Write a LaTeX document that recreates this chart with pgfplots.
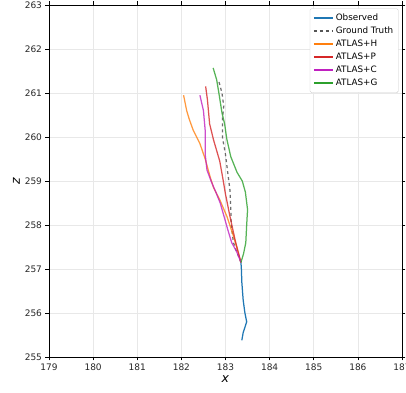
\documentclass[border=0pt]{standalone}
\usepackage{fontspec}
\setmainfont{DejaVu Sans}
\usepackage{pgfplots}
\pgfplotsset{compat=1.18}
\definecolor{cobs}{HTML}{1F77B4}
\definecolor{cgt}{HTML}{555555}
\definecolor{ch}{HTML}{FF7F0E}
\definecolor{cp}{HTML}{D62728}
\definecolor{cc}{HTML}{C020C0}
\definecolor{cg}{HTML}{2CA02C}
\begin{document}
\begin{tikzpicture}[x=1pt,y=1pt]
\begin{axis}[
  scale only axis, width=353pt, height=352pt,
  xmin=179, xmax=187, ymin=255, ymax=263,
  xtick={179,...,187}, ytick={255,...,263},
  xlabel={\textit{x}}, ylabel={\textit{z}},
  grid=major, grid style={gray!18, line width=0.6pt},
  tick style={black, line width=0.7pt}, tick align=outside,
  major tick length=3.5pt,
  axis line style={line width=0.7pt},
  ticklabel style={font=\fontsize{9}{10}\selectfont, text=black!85},
  /pgf/number format/assume math mode=true,
  /pgf/number format/.cd, 1000 sep={},
  /pgfplots/.cd,
  label style={font=\fontsize{12.5}{14}\selectfont},
  xlabel style={yshift=2pt},
  ylabel style={yshift=-2pt},
  legend pos=north east,
  legend cell align=left,
  legend style={font=\fontsize{8.8}{10.5}\selectfont, draw=gray!40, rounded corners=1.5pt, inner sep=3pt, row sep=0pt, at={(0.99,0.99)},
    nodes={text height=7pt, text depth=2pt, inner ysep=2pt}},
  legend image code/.code={\draw[#1, line width=1.8pt, opacity=1] (0pt,0pt) -- (19pt,0pt);},
  every axis plot/.append style={line width=1.25pt},
]
\addplot[cobs] coordinates {(183.37,255.38) (183.40,255.55) (183.48,255.80) (183.44,256.0) (183.40,256.3) (183.37,256.7) (183.36,257.0) (183.35,257.15)};
\addlegendentry{Observed}
\addplot[cgt, dashed, opacity=0.85] coordinates {(183.35,257.15) (183.25,257.4) (183.18,257.6) (183.13,258.0) (183.12,258.4) (183.10,258.8) (183.05,259.2) (183.0,259.6) (182.93,260.0) (182.93,260.4) (182.96,260.7) (182.92,261.0) (182.84,261.3)};
\addlegendentry{Ground Truth}
\addplot[ch, opacity=0.8] coordinates {(183.35,257.15) (183.18,257.75) (183.03,258.2) (182.88,258.55) (182.73,258.85) (182.65,259.1) (182.54,259.5) (182.42,259.85) (182.27,260.15) (182.18,260.4) (182.12,260.6) (182.05,260.95)};
\addlegendentry{ATLAS+H}
\addplot[cp, opacity=0.8] coordinates {(183.35,257.15) (183.22,257.65) (183.10,258.2) (183.0,258.7) (182.95,259.0) (182.87,259.45) (182.73,259.93) (182.64,260.3) (182.59,260.85) (182.55,261.15)};
\addlegendentry{ATLAS+P}
\addplot[cc, opacity=0.8] coordinates {(183.35,257.15) (183.25,257.4) (183.14,257.6) (183.05,257.9) (182.98,258.15) (182.88,258.5) (182.78,258.75) (182.68,258.98) (182.58,259.25) (182.54,259.6) (182.54,260.15) (182.50,260.6) (182.42,260.95)};
\addlegendentry{ATLAS+C}
\addplot[cg, opacity=0.8] coordinates {(183.35,257.15) (183.41,257.35) (183.46,257.6) (183.48,258.0) (183.50,258.35) (183.45,258.75) (183.38,259.0) (183.26,259.2) (183.12,259.55) (183.03,259.95) (182.98,260.3) (182.92,260.55) (182.85,261.0) (182.80,261.3) (182.72,261.57)};
\addlegendentry{ATLAS+G}
\end{axis}
\pgfresetboundingbox
\path (current axis.south west) ++(-49pt,-36pt) coordinate (bl);
\path (current axis.north east) ++(4pt,5pt) coordinate (tr);
\useasboundingbox (bl) rectangle (tr);
\end{tikzpicture}
\end{document}
